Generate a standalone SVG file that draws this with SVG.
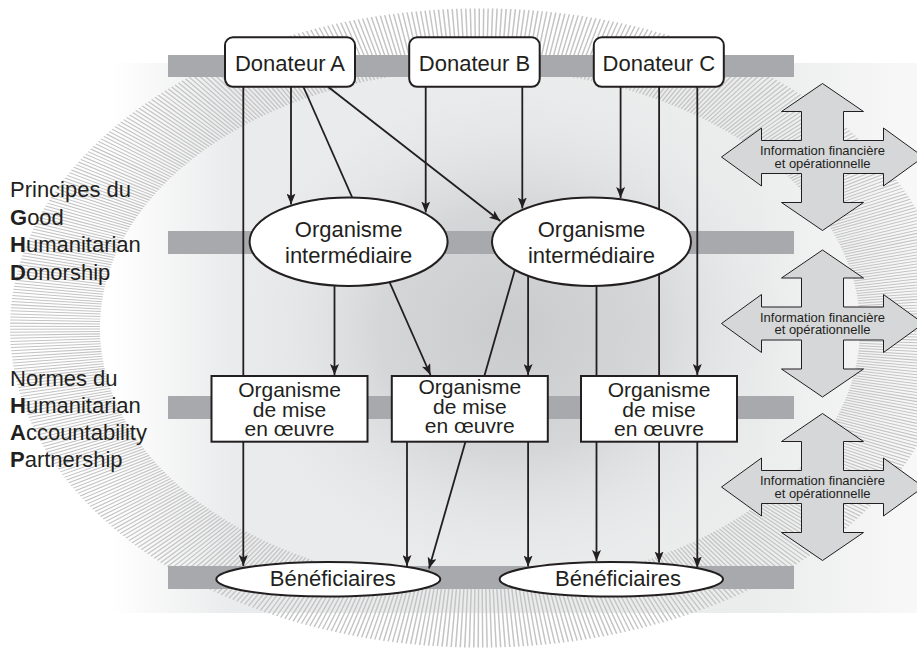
<svg xmlns="http://www.w3.org/2000/svg" width="917" height="655" viewBox="0 0 917 655">
<defs>
<style>
.band{fill:#a7a9ac}
.node{fill:#fff;stroke:#231f20;stroke-width:2}
.t{font-family:"Liberation Sans",Arial,sans-serif;font-size:22px;fill:#231f20;text-anchor:middle}
.t2{font-family:"Liberation Sans",Arial,sans-serif;font-size:21px;fill:#231f20;text-anchor:middle}
.lt{font-family:"Liberation Sans",Arial,sans-serif;font-size:22px;fill:#231f20}
.lt tspan.b{font-weight:bold}
.it{font-family:"Liberation Sans",Arial,sans-serif;font-size:13px;fill:#231f20;text-anchor:middle}
.c{stroke:#231f20;stroke-width:1.8;fill:none}
.a{marker-end:url(#ah)}
.x4{fill:#d6d7d9;stroke:#231f20;stroke-width:1}
</style>
<marker id="ah" markerUnits="userSpaceOnUse" viewBox="0 0 11 9" refX="11" refY="4.5" markerWidth="11" markerHeight="9" orient="auto">
<path d="M0,0 L11,4.5 L0,9 L2.5,4.5 Z" fill="#231f20"/>
</marker>
<linearGradient id="bgg" x1="111" y1="0" x2="917" y2="0" gradientUnits="userSpaceOnUse">
<stop offset="0" stop-color="#ffffff"/>
<stop offset="0.15" stop-color="#eaebec"/>
<stop offset="0.8" stop-color="#ebecec"/>
<stop offset="1" stop-color="#f8f8f8"/>
</linearGradient>
<radialGradient id="cg" cx="515" cy="330" r="300" gradientUnits="userSpaceOnUse" gradientTransform="translate(515 330) scale(1 0.9) translate(-515 -330)">
<stop offset="0" stop-color="#cacbcd"/>
<stop offset="0.45" stop-color="#d5d6d8"/>
<stop offset="1" stop-color="#eaebec" stop-opacity="0"/>
</radialGradient>
<polygon id="x4" class="x4" points="0,-73.5 41,-45.5 21,-45.5 21,-16.5 61,-16.5 61,-29 101,0 61,29 61,16.5 21,16.5 21,45.5 41,45.5 0,73.5 -41,45.5 -21,45.5 -21,16.5 -61,16.5 -61,29 -101,0 -61,-29 -61,-16.5 -21,-16.5 -21,-45.5 -41,-45.5"/>
</defs>

<g id="background">
<rect x="0" y="0" width="917" height="655" fill="#ffffff"/>
<rect x="111" y="63" width="806" height="550" fill="url(#bgg)"/>
<ellipse cx="515" cy="330" rx="330" ry="280" fill="url(#cg)"/>
<circle cx="0" cy="0" r="425" fill="none" stroke="#c4c4c4" stroke-width="90" stroke-dasharray="1.5 2.6" transform="translate(480 328) scale(1 0.68)"/>
</g>

<g id="bands">
<rect class="band" x="168" y="55" width="626" height="22"/>
<rect class="band" x="168" y="231" width="626" height="23"/>
<rect class="band" x="168" y="396" width="626" height="23"/>
<rect class="band" x="168" y="566" width="626" height="23"/>
</g>

<g id="connectors">
<line class="c a" x1="243.3" y1="87" x2="243.3" y2="566"/>
<line class="c a" x1="291" y1="87" x2="291" y2="204.5"/>
<line class="c a" x1="303.5" y1="87" x2="430.5" y2="375"/>
<line class="c a" x1="328.3" y1="87" x2="500.3" y2="221"/>
<line class="c a" x1="425.7" y1="87" x2="425.7" y2="212.5"/>
<line class="c a" x1="522.3" y1="87" x2="522.3" y2="208.5"/>
<line class="c a" x1="620.6" y1="87" x2="620.6" y2="198"/>
<line class="c a" x1="659.1" y1="87" x2="659.1" y2="562.5"/>
<line class="c a" x1="697.3" y1="87" x2="697.3" y2="375"/>
<line class="c a" x1="334.5" y1="285" x2="334.5" y2="375"/>
<line class="c a" x1="528.1" y1="275" x2="528.1" y2="375"/>
<line class="c a" x1="514.8" y1="270" x2="429" y2="568.5"/>
<line class="c a" x1="596.5" y1="285" x2="596.5" y2="561"/>
<line class="c a" x1="407" y1="442" x2="407" y2="566"/>
<line class="c a" x1="528.1" y1="442" x2="528.1" y2="566.5"/>
<line class="c a" x1="697.3" y1="442" x2="697.3" y2="567.5"/>
</g>

<g id="donateur-a">
<rect class="node" x="225" y="37.3" width="130" height="49.5" rx="8"/>
<text class="t" x="290" y="70.5">Donateur A</text>
</g>
<g id="donateur-b">
<rect class="node" x="409.2" y="37.3" width="130.5" height="49.5" rx="8"/>
<text class="t" x="474.5" y="70.5">Donateur B</text>
</g>
<g id="donateur-c">
<rect class="node" x="593.8" y="37.3" width="130" height="49.5" rx="8"/>
<text class="t" x="658.8" y="70.5">Donateur C</text>
</g>

<g id="intermediaire-1">
<ellipse class="node" cx="348.6" cy="241.7" rx="99" ry="44.3"/>
<text class="t" x="348.6" y="237">Organisme</text>
<text class="t" x="348.6" y="263">intermédiaire</text>
</g>
<g id="intermediaire-2">
<ellipse class="node" cx="591.5" cy="241.7" rx="99.5" ry="44.3"/>
<text class="t" x="591.5" y="237">Organisme</text>
<text class="t" x="591.5" y="263">intermédiaire</text>
</g>

<g id="mise-en-oeuvre-1">
<rect class="node" x="211.5" y="376" width="156" height="65.7"/>
<text class="t2" x="289.5" y="397">Organisme</text>
<text class="t2" x="289.5" y="416.5">de mise</text>
<text class="t2" x="289.5" y="436">en œuvre</text>
</g>
<g id="mise-en-oeuvre-2">
<rect class="node" x="391.8" y="376" width="156" height="65.7"/>
<text class="t2" x="469.8" y="394">Organisme</text>
<text class="t2" x="469.8" y="413.5">de mise</text>
<text class="t2" x="469.8" y="433">en œuvre</text>
</g>
<g id="mise-en-oeuvre-3">
<rect class="node" x="581" y="376" width="156" height="65.7"/>
<text class="t2" x="659" y="397">Organisme</text>
<text class="t2" x="659" y="416.5">de mise</text>
<text class="t2" x="659" y="436">en œuvre</text>
</g>

<g id="beneficiaires-1">
<ellipse class="node" cx="328.3" cy="579.2" rx="112" ry="17.3"/>
<text class="t" x="332.8" y="585.5">Bénéficiaires</text>
</g>
<g id="beneficiaires-2">
<ellipse class="node" cx="611.3" cy="579.2" rx="111.7" ry="17.3"/>
<text class="t" x="618" y="585.5">Bénéficiaires</text>
</g>

<g id="info-1">
<use href="#x4" transform="translate(822.5 157)"/>
<text class="it" x="822.5" y="155">Information financière</text>
<text class="it" x="822.5" y="167.5">et opérationnelle</text>
</g>
<g id="info-2">
<use href="#x4" transform="translate(822.5 323.5)"/>
<text class="it" x="822.5" y="321.5">Information financière</text>
<text class="it" x="822.5" y="334">et opérationnelle</text>
</g>
<g id="info-3">
<use href="#x4" transform="translate(822.5 487)"/>
<text class="it" x="822.5" y="485">Information financière</text>
<text class="it" x="822.5" y="497.5">et opérationnelle</text>
</g>

<g id="ghd-label">
<text class="lt" x="10" y="197">Principes du</text>
<text class="lt" x="10" y="224.5"><tspan class="b">G</tspan>ood</text>
<text class="lt" x="10" y="252"><tspan class="b">H</tspan>umanitarian</text>
<text class="lt" x="10" y="279.5"><tspan class="b">D</tspan>onorship</text>
</g>
<g id="hap-label">
<text class="lt" x="10" y="385.5">Normes du</text>
<text class="lt" x="10" y="412.5"><tspan class="b">H</tspan>umanitarian</text>
<text class="lt" x="10" y="439.5"><tspan class="b">A</tspan>ccountability</text>
<text class="lt" x="10" y="466.5"><tspan class="b">P</tspan>artnership</text>
</g>
</svg>
